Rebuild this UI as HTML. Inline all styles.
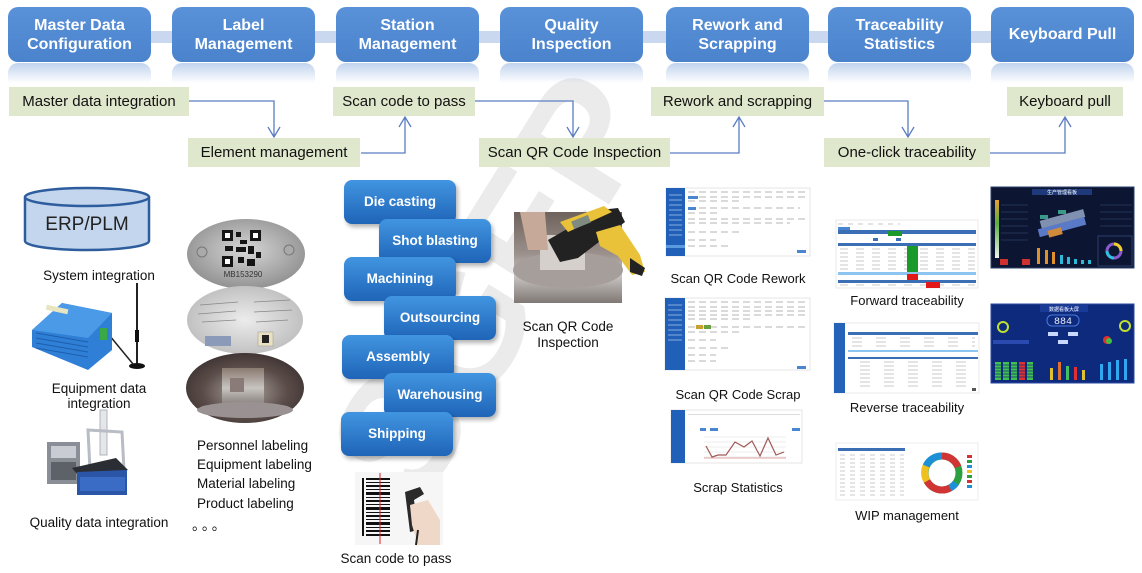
<!DOCTYPE html>
<html><head><meta charset="utf-8"><style>
body{margin:0;width:1142px;height:573px;background:#fff;position:relative;overflow:hidden;font-family:"Liberation Sans",sans-serif;}
.hb{position:absolute;top:7px;width:143px;height:55px;border-radius:10px;background:linear-gradient(#5a92d9,#4a82cc);color:#fff;font-weight:bold;font-size:16px;line-height:19px;display:flex;align-items:center;justify-content:center;text-align:center;z-index:3;}
.rf{position:absolute;top:63px;width:143px;height:20px;border-radius:10px 10px 0 0;background:linear-gradient(rgba(90,140,210,0.38),rgba(255,255,255,0));z-index:2;}
.gb{position:absolute;height:29px;background:#dfe7cc;font-size:15px;line-height:29px;text-align:center;color:#111;z-index:3;}
.pb{position:absolute;width:112px;height:44px;border-radius:8px;background:linear-gradient(#4195e0,#1f64b8);box-shadow:2px 3px 4px rgba(0,0,0,.3);color:#fff;font-weight:bold;font-size:13.5px;line-height:44px;text-align:center;z-index:3;}
svg{position:absolute;left:0;top:0;}
</style></head><body>
<svg width="1142" height="573" style="z-index:0">
<text x="0" y="0" transform="translate(540,315) rotate(-58)" text-anchor="middle" font-family="Liberation Sans" font-weight="bold" font-size="165" fill="#ebebeb">SGEP</text>
<rect x="80" y="31" width="1020" height="12" fill="#c9d8ee"/>
</svg>

<div class="hb" style="left:8px">Master Data<br>Configuration</div>
<div class="hb" style="left:172px">Label<br>Management</div>
<div class="hb" style="left:336px">Station<br>Management</div>
<div class="hb" style="left:500px">Quality<br>Inspection</div>
<div class="hb" style="left:666px">Rework and<br>Scrapping</div>
<div class="hb" style="left:828px">Traceability<br>Statistics</div>
<div class="hb" style="left:991px">Keyboard Pull</div>
<div class="rf" style="left:8px"></div><div class="rf" style="left:172px"></div><div class="rf" style="left:336px"></div><div class="rf" style="left:500px"></div><div class="rf" style="left:666px"></div><div class="rf" style="left:828px"></div><div class="rf" style="left:991px"></div>

<div class="gb" style="left:9px;top:87px;width:180px">Master data integration</div>
<div class="gb" style="left:333px;top:87px;width:142px">Scan code to pass</div>
<div class="gb" style="left:188px;top:138px;width:172px">Element management</div>
<div class="gb" style="left:479px;top:138px;width:191px">Scan QR Code Inspection</div>
<div class="gb" style="left:651px;top:87px;width:173px">Rework and scrapping</div>
<div class="gb" style="left:824px;top:138px;width:166px">One-click traceability</div>
<div class="gb" style="left:1007px;top:87px;width:116px">Keyboard pull</div>

<svg width="1142" height="573" style="z-index:4">
<g fill="none" stroke="#5b7cc1" stroke-width="1.3">
<path d="M189,101H274V137M268,127L274,137L280,127"/>
<path d="M361,153H405V117M399,127L405,117L411,127"/>
<path d="M475,101H573V137M567,127L573,137L579,127"/>
<path d="M670,153H739V117M733,127L739,117L745,127"/>
<path d="M824,101H908V137M902,127L908,137L914,127"/>
<path d="M990,153H1065V117M1059,127L1065,117L1071,127"/>
</g>

<!-- ERP cylinder -->
<path d="M25,197V241A62,9 0 0 0 149,241V197" fill="#c4d6ee" stroke="#2e5d9e" stroke-width="2.5"/>
<ellipse cx="87" cy="197" rx="62" ry="9" fill="#c4d6ee" stroke="#2e5d9e" stroke-width="2.5"/>
<text x="87" y="230" text-anchor="middle" font-family="Liberation Sans" font-size="19" fill="#222">ERP/PLM</text>

<!-- router -->
<line x1="137" y1="283" x2="137" y2="364" stroke="#222" stroke-width="2"/>
<rect x="135" y="330" width="4" height="12" fill="#111"/>
<ellipse cx="137" cy="366" rx="8" ry="3" fill="#111"/>
<path d="M105,330L133,364" stroke="#222" stroke-width="1.5"/>
<polygon points="32,330 62,303 112,313 112,350 88,370 32,347" fill="#2f7fd6"/>
<polygon points="32,330 62,303 112,313 88,338" fill="#4a9ae8"/>
<g stroke="#1d5fae" stroke-width="1"><line x1="36" y1="333" x2="88" y2="342"/><line x1="36" y1="338" x2="88" y2="347"/><line x1="36" y1="343" x2="88" y2="352"/><line x1="36" y1="348" x2="88" y2="357"/></g>
<rect x="46" y="307" width="22" height="5" fill="#e8e4c0" transform="rotate(12 57 310)"/>
<rect x="100" y="328" width="7" height="12" fill="#39a845"/>

<!-- CMM -->
<rect x="47" y="442" width="33" height="42" fill="#8a8e96"/>
<rect x="51" y="446" width="25" height="12" fill="#c9ccd2"/>
<rect x="51" y="462" width="25" height="18" fill="#5d6168"/>
<rect x="100" y="410" width="7" height="45" fill="#e4e6ea" stroke="#a0a4aa" stroke-width="0.8"/>
<polygon points="88,430 122,432 124,470 90,470" fill="none" stroke="#b8bcc4" stroke-width="3"/>
<polygon points="72,468 116,458 128,470 84,482" fill="#2a2d33"/>
<polygon points="77,472 127,470 127,495 77,495" fill="#2b56a8"/>
<rect x="80" y="477" width="45" height="14" fill="#3a6cc6"/>

<!-- label ellipses -->
<defs>
<radialGradient id="m1" cx="50%" cy="45%" r="60%"><stop offset="0" stop-color="#d6d6d6"/><stop offset="1" stop-color="#8c8c8c"/></radialGradient>
<radialGradient id="m2" cx="50%" cy="50%" r="60%"><stop offset="0" stop-color="#ececec"/><stop offset="1" stop-color="#b9b9b9"/></radialGradient>
<radialGradient id="m3" cx="50%" cy="55%" r="60%"><stop offset="0" stop-color="#b0a8a4"/><stop offset="0.6" stop-color="#5a4c48"/><stop offset="1" stop-color="#3a3030"/></radialGradient>
<linearGradient id="pg" x1="0" y1="0" x2="0" y2="1"><stop offset="0" stop-color="#8a7a70"/><stop offset="0.5" stop-color="#c8c4c0"/><stop offset="1" stop-color="#7a7270"/></linearGradient>
</defs>
<ellipse cx="246" cy="254" rx="59" ry="35" fill="url(#m1)"/>
<circle cx="202" cy="252" r="5" fill="#aaa" stroke="#777"/>
<circle cx="289" cy="250" r="5" fill="#aaa" stroke="#777"/>
<g fill="#151515">
<rect x="222" y="230" width="11" height="11"/><rect x="250" y="230" width="11" height="11"/><rect x="222" y="256" width="11" height="11"/>
<rect x="236" y="232" width="5" height="5"/><rect x="240" y="240" width="7" height="4"/><rect x="236" y="247" width="10" height="5"/><rect x="248" y="246" width="6" height="8"/><rect x="256" y="252" width="5" height="6"/><rect x="238" y="257" width="6" height="6"/><rect x="247" y="259" width="8" height="7"/><rect x="225" y="246" width="8" height="5"/>
</g>
<g fill="#fff"><rect x="225" y="233" width="5" height="5"/><rect x="253" y="233" width="5" height="5"/><rect x="225" y="259" width="5" height="5"/></g>
<text x="243" y="277" text-anchor="middle" font-family="Liberation Sans" font-size="8" fill="#333">MB153290</text>
<ellipse cx="245" cy="320" rx="58" ry="34" fill="url(#m2)"/>
<g stroke="#888" stroke-width="0.8"><line x1="200" y1="305" x2="238" y2="302"/><line x1="198" y1="314" x2="236" y2="311"/><line x1="202" y1="322" x2="236" y2="320"/><line x1="254" y1="302" x2="290" y2="300"/><line x1="254" y1="312" x2="292" y2="310"/><line x1="256" y1="322" x2="288" y2="320"/></g>
<rect x="205" y="336" width="26" height="10" fill="#8a9ab8"/>
<rect x="258" y="332" width="15" height="14" fill="#e8e0c0" stroke="#999" stroke-width="0.5"/>
<rect x="262" y="335" width="7" height="8" fill="#222"/>
<ellipse cx="245" cy="388" rx="59" ry="35" fill="url(#m3)"/>
<rect x="222" y="368" width="42" height="40" fill="url(#pg)"/>
<rect x="230" y="378" width="14" height="14" fill="#8a7a78"/>
<ellipse cx="245" cy="410" rx="48" ry="8" fill="#9a9292"/>

<!-- barcode -->
<rect x="355" y="472" width="88" height="73" fill="#f6f6f6"/>
<g fill="#111">
<rect x="362" y="478" width="2" height="58"/><rect x="366" y="478" width="24" height="2"/><rect x="366" y="482" width="24" height="1"/><rect x="366" y="485" width="24" height="2"/><rect x="366" y="489" width="24" height="1"/><rect x="366" y="492" width="24" height="3"/><rect x="366" y="497" width="24" height="1"/><rect x="366" y="500" width="24" height="2"/><rect x="366" y="504" width="24" height="1"/><rect x="366" y="507" width="24" height="3"/><rect x="366" y="512" width="24" height="1"/><rect x="366" y="515" width="24" height="2"/><rect x="366" y="519" width="24" height="1"/><rect x="366" y="522" width="24" height="3"/><rect x="366" y="527" width="24" height="1"/><rect x="366" y="530" width="24" height="2"/><rect x="366" y="534" width="24" height="2"/>
</g>
<line x1="380" y1="473" x2="380" y2="544" stroke="#e02020" stroke-width="1"/>
<path d="M405,492L420,487L424,494L414,500L418,530L410,532L406,500Z" fill="#2a2a2a"/>
<path d="M410,505L428,500L440,520L440,545L418,545L412,525Z" fill="#f0d8c8"/>
<path d="M418,530L416,545" stroke="#222" stroke-width="2"/>

<!-- scan QR photo -->
<defs><linearGradient id="qp" x1="0" y1="0" x2="0" y2="1"><stop offset="0" stop-color="#6e625c"/><stop offset="0.45" stop-color="#9a8f8a"/><stop offset="0.7" stop-color="#c9c4c2"/><stop offset="1" stop-color="#7f7874"/></linearGradient></defs>
<rect x="514" y="212" width="108" height="91" fill="url(#qp)"/>
<ellipse cx="568" cy="270" rx="55" ry="18" fill="#a69e9a"/>
<rect x="540" y="235" width="45" height="35" fill="#d6d0cc"/>
<rect x="558" y="245" width="10" height="12" fill="#9a8c88"/>
<path d="M520,212L545,212L548,250L528,250Z" fill="#c7a99a"/>
<path d="M548,240L600,210L618,208L625,222L578,258L560,262Z" fill="#222"/>
<path d="M560,222L604,206L612,212L568,232Z" fill="#e9c23a"/>
<path d="M596,232L620,225L640,255L645,272L632,275L618,256L600,246Z" fill="#e9c23a"/>
<path d="M630,258L645,268L642,276L630,272Z" fill="#222"/>
<rect x="572" y="218" width="18" height="8" fill="#7f8a80" transform="rotate(-22 581 222)"/>

<!-- screenshot Rework -->
<rect x="666" y="188" width="144" height="68" fill="#fff" stroke="#e4e4e4"/>
<rect x="666" y="188" width="19" height="68" fill="#2060b8"/>
<rect x="666" y="245" width="19" height="3" fill="#5c9ae0"/>
<g stroke="#c4c4c4" stroke-width="1.2" stroke-dasharray="7 4">
<line x1="688" y1="192" x2="808" y2="192"/><line x1="688" y1="197" x2="808" y2="197"/><line x1="688" y1="201" x2="740" y2="201"/><line x1="688" y1="208" x2="800" y2="208"/><line x1="688" y1="213" x2="720" y2="213"/><line x1="688" y1="219" x2="806" y2="219"/><line x1="688" y1="223" x2="790" y2="223"/><line x1="688" y1="232" x2="740" y2="232"/><line x1="688" y1="240" x2="716" y2="240"/><line x1="688" y1="246" x2="730" y2="246"/></g>
<rect x="688" y="196" width="10" height="3" fill="#4a86d0"/><rect x="688" y="207" width="8" height="3" fill="#4a86d0"/>
<rect x="797" y="250" width="9" height="3" fill="#4a86d0"/>
<g stroke="#fff" stroke-width="0.8" opacity="0.6"><line x1="669" y1="195" x2="682" y2="195"/><line x1="669" y1="200" x2="682" y2="200"/><line x1="669" y1="205" x2="682" y2="205"/><line x1="669" y1="210" x2="682" y2="210"/><line x1="669" y1="215" x2="682" y2="215"/><line x1="669" y1="220" x2="682" y2="220"/><line x1="669" y1="225" x2="682" y2="225"/><line x1="669" y1="230" x2="682" y2="230"/><line x1="669" y1="235" x2="682" y2="235"/></g>

<!-- screenshot Scrap -->
<rect x="665" y="298" width="145" height="72" fill="#fff" stroke="#e4e4e4"/>
<rect x="665" y="298" width="20" height="72" fill="#2060b8"/>
<g stroke="#c4c4c4" stroke-width="1.2" stroke-dasharray="7 4">
<line x1="688" y1="302" x2="808" y2="302"/><line x1="688" y1="307" x2="808" y2="307"/><line x1="688" y1="311" x2="808" y2="311"/><line x1="688" y1="315" x2="808" y2="315"/><line x1="688" y1="319" x2="750" y2="319"/><line x1="688" y1="327" x2="806" y2="327"/><line x1="688" y1="332" x2="740" y2="332"/><line x1="688" y1="340" x2="716" y2="340"/><line x1="688" y1="348" x2="730" y2="348"/><line x1="688" y1="355" x2="716" y2="355"/><line x1="688" y1="361" x2="716" y2="361"/></g>
<rect x="696" y="325" width="7" height="4" fill="#c8a030"/><rect x="704" y="325" width="7" height="4" fill="#6aa040"/>
<rect x="797" y="366" width="9" height="3" fill="#4a86d0"/>
<g stroke="#fff" stroke-width="0.8" opacity="0.6"><line x1="668" y1="305" x2="682" y2="305"/><line x1="668" y1="310" x2="682" y2="310"/><line x1="668" y1="315" x2="682" y2="315"/><line x1="668" y1="320" x2="682" y2="320"/><line x1="668" y1="325" x2="682" y2="325"/><line x1="668" y1="330" x2="682" y2="330"/><line x1="668" y1="335" x2="682" y2="335"/><line x1="668" y1="340" x2="682" y2="340"/></g>

<!-- Scrap stats -->
<rect x="671" y="410" width="131" height="53" fill="#fff" stroke="#e4e4e4"/>
<rect x="671" y="410" width="14" height="53" fill="#2060b8"/>
<rect x="688" y="414" width="112" height="1" fill="#ddd"/>
<rect x="700" y="428" width="6" height="3" fill="#4a86d0"/><rect x="710" y="428" width="8" height="3" fill="#4a86d0"/><rect x="792" y="428" width="8" height="3" fill="#4a86d0"/>
<g stroke="#ddd" stroke-width="0.6"><line x1="704" y1="437" x2="786" y2="437"/><line x1="704" y1="442" x2="786" y2="442"/><line x1="704" y1="447" x2="786" y2="447"/><line x1="704" y1="452" x2="786" y2="452"/><line x1="704" y1="457" x2="786" y2="457"/></g>
<polyline points="706,446 712,457 718,455 726,455 735,442 744,447 752,441 760,456 768,438 776,455 784,452" fill="none" stroke="#a05858" stroke-width="1.2"/>
<line x1="704" y1="458" x2="786" y2="458" stroke="#c05050" stroke-width="0.6"/>

<!-- Forward traceability -->
<rect x="836" y="220" width="142" height="68" fill="#fff" stroke="#eaeaea"/>
<g stroke="#c8c8c8" stroke-width="1" stroke-dasharray="5 5"><line x1="838" y1="224" x2="900" y2="224"/></g>
<rect x="838" y="227" width="12" height="3" fill="#4a86d0"/>
<rect x="838" y="230" width="138" height="4" fill="#3a6fb5"/>
<rect x="888" y="231" width="14" height="5" fill="#1a9a2a"/>
<rect x="873" y="238" width="5" height="3" fill="#3a6fb5"/><rect x="896" y="238" width="5" height="3" fill="#3a6fb5"/>
<rect x="838" y="243" width="138" height="3" fill="#3a6fb5"/>
<g stroke="#c8c8c8" stroke-width="1" stroke-dasharray="8 8"><line x1="840" y1="249" x2="975" y2="249"/><line x1="840" y1="253" x2="975" y2="253"/><line x1="840" y1="257" x2="975" y2="257"/><line x1="840" y1="261" x2="975" y2="261"/><line x1="840" y1="265" x2="975" y2="265"/><line x1="840" y1="269" x2="975" y2="269"/><line x1="840" y1="285" x2="975" y2="285"/></g>
<rect x="907" y="246" width="11" height="26" fill="#1a9a2a"/>
<rect x="838" y="272" width="138" height="3" fill="#8ec4f0"/>
<rect x="907" y="274" width="11" height="7" fill="#e01818"/>
<rect x="838" y="280" width="138" height="3" fill="#3a6fb5"/>
<rect x="926" y="282" width="14" height="6" fill="#e01818"/>

<!-- Reverse traceability -->
<rect x="834" y="323" width="145" height="70" fill="#fff" stroke="#eaeaea"/>
<rect x="834" y="323" width="11" height="70" fill="#2563b8"/>
<rect x="848" y="332" width="130" height="3" fill="#3a6fb5"/>
<g stroke="#c8c8c8" stroke-width="1" stroke-dasharray="10 14"><line x1="852" y1="338" x2="975" y2="338"/><line x1="852" y1="342" x2="975" y2="342"/><line x1="852" y1="346" x2="975" y2="346"/><line x1="860" y1="362" x2="975" y2="362"/><line x1="860" y1="366" x2="975" y2="366"/><line x1="860" y1="370" x2="975" y2="370"/><line x1="860" y1="374" x2="975" y2="374"/><line x1="860" y1="378" x2="975" y2="378"/><line x1="860" y1="382" x2="975" y2="382"/><line x1="860" y1="386" x2="975" y2="386"/></g>
<rect x="848" y="350" width="130" height="2" fill="#8ec4f0"/>
<rect x="848" y="357" width="130" height="2" fill="#3a6fb5"/>
<rect x="972" y="388" width="4" height="3" fill="#555"/>

<!-- WIP -->
<rect x="836" y="443" width="142" height="57" fill="#fff" stroke="#eee"/>
<rect x="838" y="448" width="67" height="3" fill="#3a6fb5"/>
<g stroke="#bbb" stroke-width="0.8" stroke-dasharray="5 5"><line x1="840" y1="455" x2="904" y2="455"/><line x1="840" y1="459" x2="904" y2="459"/><line x1="840" y1="463" x2="904" y2="463"/><line x1="840" y1="467" x2="904" y2="467"/><line x1="840" y1="471" x2="904" y2="471"/><line x1="840" y1="475" x2="904" y2="475"/><line x1="840" y1="479" x2="904" y2="479"/><line x1="840" y1="483" x2="904" y2="483"/><line x1="840" y1="487" x2="904" y2="487"/><line x1="840" y1="491" x2="904" y2="491"/><line x1="840" y1="495" x2="904" y2="495"/></g>
<g fill="none" stroke-width="7">
<circle cx="942" cy="473" r="17" stroke="#2aa040"/>
<path d="M942,456A17,17 0 0 1 958,467" stroke="#d03434"/>
<path d="M927,481A17,17 0 0 0 950,488" stroke="#d03434"/>
<path d="M942,456A17,17 0 0 0 926,466" stroke="#1e90d8"/>
<path d="M926,466A17,17 0 0 0 927,481" stroke="#f0c020"/>
<path d="M950,488A17,17 0 0 0 956,483" stroke="#1e90d8"/>
</g>
<g><rect x="967" y="455" width="5" height="3" fill="#d03434"/><rect x="967" y="460" width="5" height="3" fill="#2aa040"/><rect x="967" y="465" width="5" height="3" fill="#1e90d8"/><rect x="967" y="470" width="5" height="3" fill="#f0c020"/><rect x="967" y="475" width="5" height="3" fill="#2aa040"/><rect x="967" y="480" width="5" height="3" fill="#d03434"/><rect x="967" y="485" width="5" height="3" fill="#1e90d8"/></g>

<!-- Dashboard 1 -->
<rect x="991" y="187" width="143" height="81" fill="#0c1632" stroke="#2a3e6a"/>
<rect x="1032" y="189" width="60" height="6" fill="#1e3a7a"/>
<text x="1062" y="194" text-anchor="middle" font-family="Liberation Sans, Noto Sans CJK SC, sans-serif" font-size="5" fill="#fff">生产管理看板</text>
<defs><linearGradient id="yg" x1="0" y1="0" x2="0" y2="1"><stop offset="0" stop-color="#e8a030"/><stop offset="0.4" stop-color="#5ab040"/><stop offset="1" stop-color="#f0f0f0"/></linearGradient></defs>
<rect x="995" y="200" width="4" height="58" fill="url(#yg)"/>
<g stroke="#3a4e78" stroke-width="0.6"><line x1="1001" y1="205" x2="1028" y2="205"/><line x1="1001" y1="212" x2="1028" y2="212"/><line x1="1001" y1="219" x2="1028" y2="219"/><line x1="1001" y1="226" x2="1028" y2="226"/><line x1="1001" y1="233" x2="1028" y2="233"/><line x1="1001" y1="240" x2="1028" y2="240"/><line x1="1100" y1="205" x2="1132" y2="205"/><line x1="1100" y1="212" x2="1132" y2="212"/><line x1="1100" y1="219" x2="1132" y2="219"/><line x1="1100" y1="226" x2="1132" y2="226"/></g>
<rect x="1000" y="259" width="8" height="6" fill="#d03030"/><rect x="1022" y="259" width="8" height="6" fill="#d03030"/>
<g><rect x="1040" y="215" width="45" height="8" fill="#8090b0" transform="rotate(-15 1062 219)"/><rect x="1038" y="223" width="48" height="8" fill="#5a7ac8" transform="rotate(-15 1062 227)"/><rect x="1048" y="229" width="14" height="7" fill="#d08a3a" transform="rotate(-15 1055 232)"/></g>
<rect x="1058" y="210" width="8" height="4" fill="#3a9a8a"/><rect x="1040" y="215" width="8" height="4" fill="#3a9a8a"/>
<g><rect x="1037" y="248" width="3" height="16" fill="#e0902a"/><rect x="1045" y="250" width="3" height="14" fill="#e0902a"/><rect x="1052" y="252" width="3" height="12" fill="#e0902a"/><rect x="1060" y="255" width="3" height="9" fill="#30b8d8"/><rect x="1067" y="257" width="3" height="7" fill="#30b8d8"/><rect x="1074" y="259" width="3" height="5" fill="#30b8d8"/><rect x="1081" y="260" width="3" height="4" fill="#30b8d8"/><rect x="1088" y="260" width="3" height="4" fill="#30b8d8"/></g>
<rect x="1098" y="236" width="34" height="30" fill="none" stroke="#2a3e6a"/>
<circle cx="1114" cy="251" r="7" fill="none" stroke="#8a5ad0" stroke-width="3"/>
<path d="M1114,244A7,7 0 0 1 1121,251" fill="none" stroke="#f0d030" stroke-width="3"/>
<path d="M1107,251A7,7 0 0 0 1114,258" fill="none" stroke="#30c0e0" stroke-width="3"/>

<!-- Dashboard 2 -->
<rect x="991" y="304" width="143" height="79" fill="#0e2a7c" stroke="#2a4aa0"/>
<rect x="1040" y="305" width="48" height="7" fill="#1a3a98"/>
<text x="1064" y="311" text-anchor="middle" font-family="Liberation Sans, Noto Sans CJK SC, sans-serif" font-size="5" fill="#fff">数据看板大屏</text>
<rect x="1047" y="315" width="32" height="11" rx="5" fill="none" stroke="#4a7ae0"/>
<text x="1063" y="324" text-anchor="middle" font-family="Liberation Mono" font-size="10" fill="#e8f0ff">884</text>
<g fill="#c8d8ff"><rect x="1048" y="332" width="10" height="4"/><rect x="1068" y="332" width="10" height="4"/><rect x="1058" y="340" width="10" height="4"/></g>
<circle cx="1003" cy="327" r="5" fill="none" stroke="#c0e030" stroke-width="2"/>
<circle cx="1125" cy="326" r="5" fill="none" stroke="#c0e030" stroke-width="2"/>
<circle cx="1107" cy="340" r="4" fill="#e03030"/><circle cx="1109" cy="341" r="3" fill="#40c040"/>
<rect x="993" y="340" width="36" height="4" fill="#2a4ab0"/>
<g fill="#40c050"><rect x="995" y="362" width="6" height="18"/><rect x="1003" y="362" width="6" height="18"/><rect x="1011" y="362" width="6" height="18"/><rect x="1027" y="362" width="6" height="18"/></g>
<rect x="1019" y="362" width="6" height="18" fill="#e03030"/>
<g stroke="#0e2a7c" stroke-width="0.8"><line x1="995" y1="365" x2="1034" y2="365"/><line x1="995" y1="368" x2="1034" y2="368"/><line x1="995" y1="371" x2="1034" y2="371"/><line x1="995" y1="374" x2="1034" y2="374"/><line x1="995" y1="377" x2="1034" y2="377"/></g>
<g><rect x="1050" y="368" width="3" height="12" fill="#e0c030"/><rect x="1058" y="362" width="3" height="18" fill="#e07030"/><rect x="1066" y="366" width="3" height="14" fill="#40c060"/><rect x="1074" y="367" width="3" height="13" fill="#e03030"/><rect x="1082" y="370" width="3" height="10" fill="#e0c030"/></g>
<g fill="#30a8f0"><rect x="1100" y="364" width="3" height="16"/><rect x="1108" y="362" width="3" height="18"/><rect x="1116" y="360" width="3" height="20"/><rect x="1124" y="359" width="3" height="21"/></g>

<!-- labels -->
<g font-family="Liberation Sans" font-size="13.5" fill="#111" text-anchor="middle">
<text x="99" y="280">System integration</text>
<text x="99" y="393">Equipment data</text>
<text x="99" y="408">integration</text>
<text x="99" y="527">Quality data integration</text>
<text x="396" y="563">Scan code to pass</text>
<text x="568" y="331">Scan QR Code</text>
<text x="568" y="347">Inspection</text>
</g>
<g font-family="Liberation Sans" font-size="13" fill="#111" text-anchor="middle">
<text x="738" y="283">Scan QR Code Rework</text>
<text x="738" y="399">Scan QR Code Scrap</text>
<text x="738" y="492">Scrap Statistics</text>
<text x="907" y="305">Forward traceability</text>
<text x="907" y="412">Reverse traceability</text>
<text x="907" y="520">WIP management</text>
</g>
<g font-family="Liberation Sans" font-size="13.5" fill="#111">
<text x="197" y="450">Personnel labeling</text>
<text x="197" y="469">Equipment labeling</text>
<text x="197" y="488">Material labeling</text>
<text x="197" y="508">Product labeling</text>
</g>
<text x="192" y="530" font-family="Liberation Sans, Noto Sans CJK SC, sans-serif" font-size="14" letter-spacing="-4" fill="#111">。 。 。</text>
</svg>

<div class="pb" style="left:344px;top:180px">Die casting</div>
<div class="pb" style="left:379px;top:219px">Shot blasting</div>
<div class="pb" style="left:344px;top:257px">Machining</div>
<div class="pb" style="left:384px;top:296px">Outsourcing</div>
<div class="pb" style="left:342px;top:335px">Assembly</div>
<div class="pb" style="left:384px;top:373px">Warehousing</div>
<div class="pb" style="left:341px;top:412px">Shipping</div>
</body></html>
